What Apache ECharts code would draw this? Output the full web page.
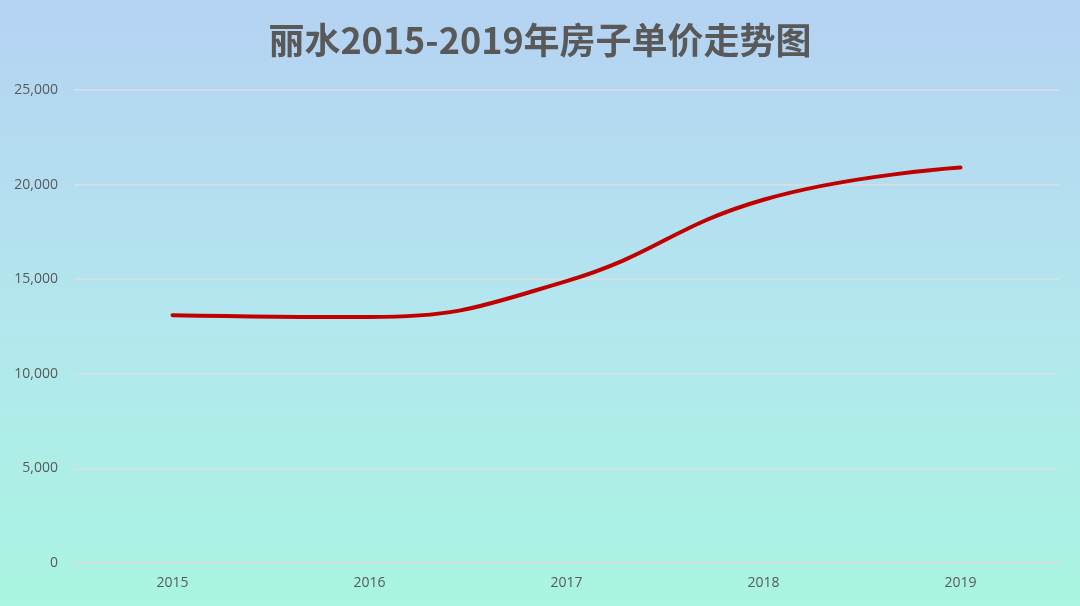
<!DOCTYPE html>
<html>
<head>
<meta charset="utf-8">
<script src="https://cdn.jsdelivr.net/npm/echarts@6/dist/echarts.min.js"></script>
<style>
  html, body { margin: 0; padding: 0; }
  #grafico { width: 1080px; height: 606px; }
</style>
</head>
<body>
<div id="grafico"></div>
<script>
  // datos
  const anios = ['2015', '2016', '2017', '2018', '2019'];
  const precios = [13100, 13000, 14900, 19200, 20900];
  const ejeY = { min: 0, max: 25000, intervalo: 5000 };

  const FUENTE = '"Open Sans", "Noto Sans CJK SC", sans-serif';
  const GRIS = '#595959';

  const chart = echarts.init(document.getElementById('grafico'));
  chart.setOption({
    animation: false,
    backgroundColor: {
      type: 'linear', x: 0, y: 0, x2: 0, y2: 1,
      colorStops: [
        { offset: 0, color: '#b5d2f2' },
        { offset: 0.5, color: '#b3e6ee' },
        { offset: 1, color: '#a9f5e1' }
      ]
    },
    title: {
      text: '丽水2015-2019年房子单价走势图',
      left: 'center', top: 17,
      textStyle: { color: GRIS, fontSize: 36, fontWeight: 'bold',
                   fontFamily: '"Noto Sans CJK SC", sans-serif' }
    },
    grid: { left: 74, right: 21, top: 90, bottom: 43, containLabel: false },
    xAxis: {
      type: 'category', data: anios, boundaryGap: true,
      axisLine: { show: true, lineStyle: { color: '#d6dede', width: 1.5 } },
      axisTick: { show: false },
      axisLabel: { color: GRIS, fontSize: 14, fontFamily: FUENTE, margin: 13 }
    },
    yAxis: {
      type: 'value', min: ejeY.min, max: ejeY.max, interval: ejeY.intervalo,
      axisLine: { show: false }, axisTick: { show: false },
      axisLabel: {
        color: GRIS, fontSize: 14, fontFamily: FUENTE, margin: 16,
        formatter: (v) => v.toLocaleString('en-US')
      },
      splitLine: { lineStyle: { color: '#d9dfe3', width: 1.5 } }
    },
    series: [{
      type: 'line', data: precios, smooth: 0.45, symbol: 'none',
      lineStyle: { color: '#c00000', width: 4, cap: 'round' }
    }]
  });
</script>
</body>
</html>
